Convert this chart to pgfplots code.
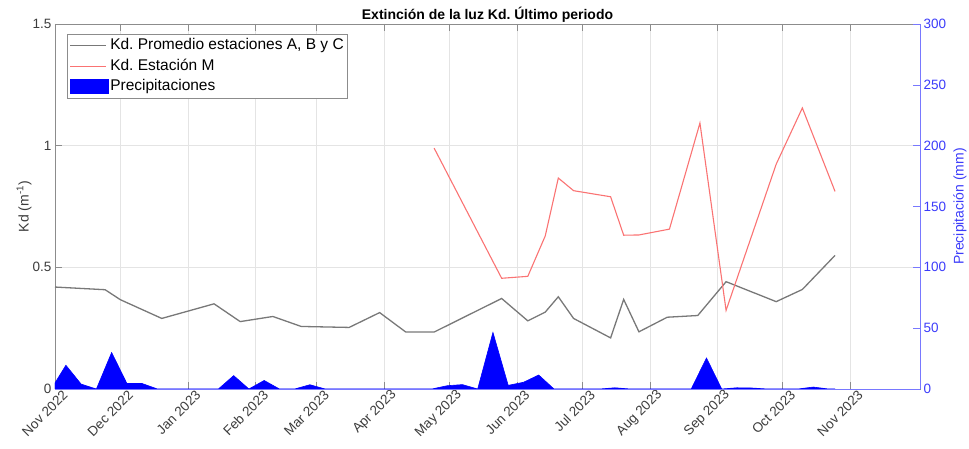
\documentclass[border=0pt]{standalone}
\usepackage{fontspec}
\setmainfont{Liberation Sans}
\usepackage{pgfplots}
\pgfplotsset{compat=1.18}
\definecolor{kdgray}{RGB}{120,120,120}
\definecolor{kdred}{RGB}{250,115,115}
\definecolor{axgray}{RGB}{140,140,140}
\definecolor{gridc}{RGB}{228,228,228}
\definecolor{raxis}{RGB}{120,120,255}
\definecolor{rlab}{RGB}{60,60,250}
\definecolor{lab}{RGB}{60,60,60}

\pgfplotstableread{
d v
0 0.419
23 0.408
30 0.367
49 0.290
73 0.350
85 0.277
100 0.298
113 0.257
135 0.253
149 0.314
161 0.234
174 0.234
205 0.372
217 0.280
225 0.316
231 0.379
238 0.290
255 0.210
261 0.368
268 0.235
281 0.295
295 0.302
308 0.441
331 0.359
343 0.409
358 0.549
}\kdabc

\pgfplotstableread{
d v
174 0.990
205 0.455
217 0.463
225 0.629
231 0.867
238 0.815
255 0.790
261 0.632
268 0.633
282 0.657
296 1.093
308 0.323
331 0.924
343 1.155
358 0.812
}\kdm

\pgfplotstableread{
d p
0 5
5 19.5
12 4
19 0
26 30
33 4.5
40 4.5
47 0
75 0
82 11
89 0
96 7
103 0
110 0
117 3.5
124 0
173 0
180 2.7
187 3.6
194 0
201 46.5
208 3
215 5.5
222 11.5
229 0
250 0
257 1
264 0
292 0
299 25.5
306 0
313 1
320 0.8
327 0
341 0
348 1.6
355 0
358 0
}\precip

\begin{document}
\frenchspacing
\begin{tikzpicture}
\useasboundingbox (-55pt,-60pt) rectangle (914pt,389pt);
\begin{axis}[
  at={(0pt,0pt)}, anchor=south west,
  scale only axis, width=865pt, height=365pt,
  xmin=0, xmax=397, ymin=0, ymax=1.5,
  xtick={0,30,61,92,120,151,181,212,242,273,304,334,365},
  xticklabels={Nov 2022,Dec 2022,Jan 2023,Feb 2023,Mar 2023,Apr 2023,May 2023,Jun 2023,Jul 2023,Aug 2023,Sep 2023,Oct 2023,Nov 2023},
  ytick={0,0.5,1,1.5}, yticklabels={0,0.5,1,1.5},
  xtick pos=both, ytick pos=left, tick align=inside,
  major tick length=7pt,
  tick style={axgray, line width=0.6pt},
  axis line style={axgray, line width=0.6pt},
  grid=major, grid style={gridc, line width=0.6pt},
  xticklabel style={rotate=45, anchor=east, font=\fontsize{13.5}{16}\selectfont, text=lab, xshift=8pt, yshift=-10pt},
  yticklabel style={font=\fontsize{13.5}{16}\selectfont, text=lab},
  ylabel={Kd (m\textsuperscript{-1})},
  ylabel style={at={(axis description cs:-0.0358,0.5)}, anchor=center, font=\fontsize{14}{16}\selectfont, text=lab},
  title={Extinción de la luz Kd. Último periodo},
  title style={at={(axis description cs:0.5,1)}, anchor=base, yshift=-2pt, font=\bfseries\fontsize{14}{16}\selectfont},
  legend style={at={(axis description cs:0.0139,0.9726)}, anchor=north west, draw=axgray, line width=0.6pt,
    font=\fontsize{15.5}{18}\selectfont, inner sep=2.5pt, row sep=2.5pt,
    nodes={inner sep=1.5pt, text height=11.5pt, text depth=3.5pt}},
  legend cell align=left,
  legend image code/.code={\draw[#1] (0pt,0pt) -- (36pt,0pt);},
]
\addplot[kdgray, line width=1.3pt] table[x=d, y=v] {\kdabc};
\addlegendentry{Kd. Promedio estaciones A, B y C}
\addplot[kdred, line width=1.1pt] table[x=d, y=v] {\kdm};
\addlegendentry{Kd. Estación M}
\addlegendimage{legend image code/.code={\fill[blue] (0pt,-7pt) rectangle (38pt,7pt);}}
\addlegendentry{Precipitaciones}
\end{axis}
\begin{axis}[
  at={(0pt,0pt)}, anchor=south west,
  scale only axis, width=865pt, height=365pt,
  xmin=0, xmax=397, ymin=0, ymax=300,
  axis x line*=bottom, axis y line*=right,
  xtick=\empty,
  ytick={0,50,100,150,200,250,300}, yticklabels={0,50,100,150,200,250,300},
  ytick pos=right, tick align=inside, major tick length=7pt,
  tick style={raxis, line width=0.6pt},
  axis line style={raxis, line width=0.8pt},
  yticklabel style={font=\fontsize{13.5}{16}\selectfont, text=rlab},
  ylabel={Precipitación (mm)},
  ylabel style={at={(axis description cs:1.0462,0.5)}, anchor=center, font=\fontsize{14}{16}\selectfont, text=rlab},
]
\addplot[fill=blue, draw=blue, line width=0.6pt] table[x=d, y=p] {\precip} \closedcycle;
\end{axis}
\end{tikzpicture}
\end{document}
